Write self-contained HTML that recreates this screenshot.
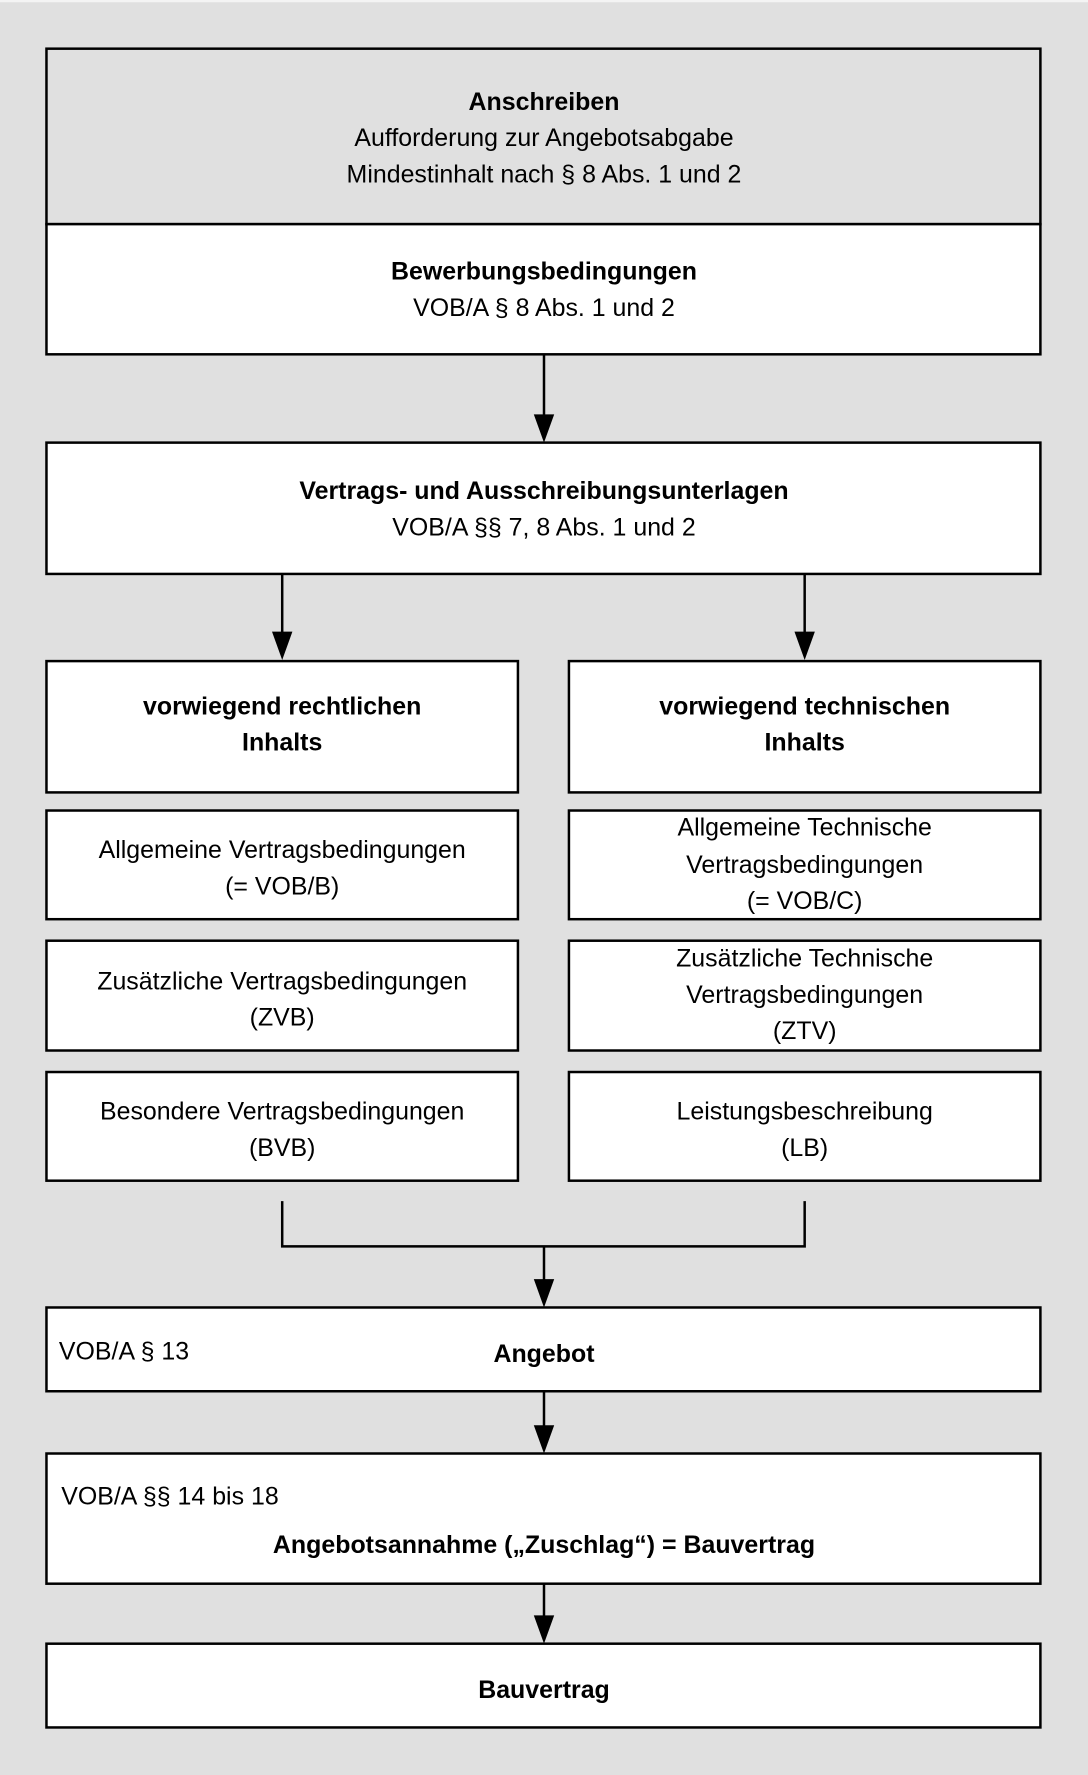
<!DOCTYPE html>
<html><head><meta charset="utf-8"><style>
html,body{margin:0;padding:0;background:#e0e0e0;}
svg{display:block;}
text{font-family:"Liberation Sans",sans-serif;font-size:22px;fill:#000;}
.b{font-weight:bold;}
</style></head><body>
<svg width="1088" height="1775" viewBox="0 0 960 1568" preserveAspectRatio="none" xmlns="http://www.w3.org/2000/svg">
<rect x="0" y="0" width="960" height="1568" fill="#e0e0e0"/>
<rect x="0" y="0" width="960" height="2" fill="#f4f4f4"/>
<g stroke="#000" stroke-width="2.2">
<rect x="41" y="43" width="877" height="155" fill="#e0e0e0"/>
<rect x="41" y="198" width="877" height="115" fill="#fff"/>
<rect x="41" y="391" width="877" height="116" fill="#fff"/>
<rect x="41" y="584" width="416" height="116" fill="#fff"/>
<rect x="502" y="584" width="416" height="116" fill="#fff"/>
<rect x="41" y="716" width="416" height="96" fill="#fff"/>
<rect x="502" y="716" width="416" height="96" fill="#fff"/>
<rect x="41" y="831" width="416" height="97" fill="#fff"/>
<rect x="502" y="831" width="416" height="97" fill="#fff"/>
<rect x="41" y="947" width="416" height="96" fill="#fff"/>
<rect x="502" y="947" width="416" height="96" fill="#fff"/>
<rect x="41" y="1155" width="877" height="74" fill="#fff"/>
<rect x="41" y="1284" width="877" height="115" fill="#fff"/>
<rect x="41" y="1452" width="877" height="74" fill="#fff"/>
<line x1="480" y1="313" x2="480" y2="370"/>
<line x1="249" y1="507" x2="249" y2="562"/>
<line x1="710" y1="507" x2="710" y2="562"/>
<polyline points="249,1061 249,1101 710,1101 710,1061" fill="none"/>
<line x1="480" y1="1101" x2="480" y2="1134"/>
<line x1="480" y1="1229" x2="480" y2="1262"/>
<line x1="480" y1="1399" x2="480" y2="1430"/>
</g>
<g fill="#000">
<polygon points="471,366 489,366 480,391"/>
<polygon points="240,558 258,558 249,583"/>
<polygon points="701,558 719,558 710,583"/>
<polygon points="471,1130 489,1130 480,1155"/>
<polygon points="471,1259 489,1259 480,1284"/>
<polygon points="471,1427 489,1427 480,1452"/>
</g>
<g text-anchor="middle">
<text x="480" y="97" class="b">Anschreiben</text>
<text x="480" y="129">Aufforderung zur Angebotsabgabe</text>
<text x="480" y="161">Mindestinhalt nach § 8 Abs. 1 und 2</text>
<text x="480" y="247" class="b">Bewerbungsbedingungen</text>
<text x="480" y="279">VOB/A § 8 Abs. 1 und 2</text>
<text x="480" y="441" class="b">Vertrags- und Ausschreibungsunterlagen</text>
<text x="480" y="473">VOB/A §§ 7, 8 Abs. 1 und 2</text>
<text x="249" y="631" class="b">vorwiegend rechtlichen</text>
<text x="249" y="663" class="b">Inhalts</text>
<text x="710" y="631" class="b">vorwiegend technischen</text>
<text x="710" y="663" class="b">Inhalts</text>
<text x="249" y="758">Allgemeine Vertragsbedingungen</text>
<text x="249" y="790">(= VOB/B)</text>
<text x="710" y="738">Allgemeine Technische</text>
<text x="710" y="771">Vertragsbedingungen</text>
<text x="710" y="803">(= VOB/C)</text>
<text x="249" y="874">Zusätzliche Vertragsbedingungen</text>
<text x="249" y="906">(ZVB)</text>
<text x="710" y="854">Zusätzliche Technische</text>
<text x="710" y="886">Vertragsbedingungen</text>
<text x="710" y="918">(ZTV)</text>
<text x="249" y="989">Besondere Vertragsbedingungen</text>
<text x="249" y="1021">(BVB)</text>
<text x="710" y="989">Leistungsbeschreibung</text>
<text x="710" y="1021">(LB)</text>
<text x="480" y="1203" class="b">Angebot</text>
<text x="480" y="1372" class="b">Angebotsannahme („Zuschlag“) = Bauvertrag</text>
<text x="480" y="1500" class="b">Bauvertrag</text>
</g>
<text x="52" y="1201">VOB/A § 13</text>
<text x="54" y="1329">VOB/A §§ 14 bis 18</text>
</svg>
</body></html>
